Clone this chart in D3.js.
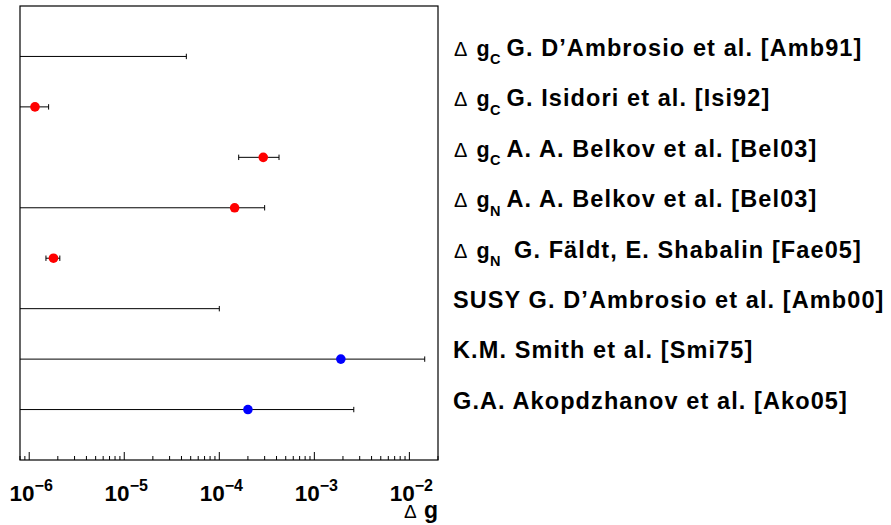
<!DOCTYPE html>
<html><head><meta charset="utf-8">
<script src="https://cdn.jsdelivr.net/npm/d3@7"></script>
<style>
html,body{margin:0;padding:0;background:#fff;}
text{font-family:"Liberation Sans",Arial,Helvetica,sans-serif;}
</style></head>
<body>
<svg id="c" width="891" height="525"></svg>
<script>
// ---- data ----
const legendSub = ["C","C","C","N","N","","",""];
const legendText = ["G. D\u2019Ambrosio et al. [Amb91]","G. Isidori et al. [Isi92]","A. A. Belkov et al. [Bel03]","A. A. Belkov et al. [Bel03]","G. F\u00e4ldt, E. Shabalin [Fae05]","SUSY G. D\u2019Ambrosio et al. [Amb00]","K.M. Smith et al. [Smi75]","G.A. Akopdzhanov et al. [Ako05]"];
const values = [null, 1.15e-6, 2.9e-4, 1.45e-4, 1.8e-6, null, 1.9e-3, 2.0e-4];
const errLow = [0, 0.7e-6, 1.6e-4, 0, 1.5e-6, 0, 0, 0];
const errHigh = [4.5e-5, 1.6e-6, 4.25e-4, 3.0e-4, 2.1e-6, 1.0e-4, 1.45e-2, 2.6e-3];
const markerColor = ["red","red","red","red","red","red","blue","blue"];
const tickExponents = ["-6","-5","-4","-3","-2"];
const xDomain = [8e-7, 0.02];

// ---- layout ----
const svg = d3.select("#c");
const L = 20, R = 438, T = 6, B = 460;
const x = d3.scaleLog().domain(xDomain).range([L, R]);
const y = d3.scaleLinear().domain([0, 9]).range([B, T]);
const rowY = i => y(8 - i);

// frame
svg.append("rect").attr("x", L).attr("y", T).attr("width", R - L).attr("height", B - T)
  .attr("fill", "none").attr("stroke", "#000").attr("stroke-width", 1.2);

// ticks
const allTicks = x.ticks();
const g = svg.append("g");
allTicks.forEach(t => {
  const lg = Math.log10(t);
  const major = Math.abs(lg - Math.round(lg)) < 1e-9;
  const px = x(t);
  g.append("line").attr("x1", px).attr("x2", px).attr("y1", B).attr("y2", B - (major ? 8 : 4))
    .attr("stroke", "#000").attr("stroke-width", 1);
});

// tick labels
tickExponents.forEach(e => {
  const v = Math.pow(10, +e);
  const t = svg.append("text").attr("x", x(v) + 2).attr("y", 501).attr("text-anchor", "middle")
    .attr("font-weight", "bold").attr("font-size", 22.5);
  t.append("tspan").text("10");
  t.append("tspan").attr("dy", -10).attr("font-size", 16).text("\u2212" + e.replace("-", ""));
});

// axis title
const at = svg.append("text").attr("x", 404).attr("y", 517.5);
at.append("tspan").attr("font-size", 19).text("\u0394");
at.append("tspan").attr("x", 424).attr("font-size", 23).attr("font-weight", "bold").text("g");

// error bars
const eb = svg.append("g");
values.forEach((v, i) => {
  const yy = rowY(i);
  const lowV = errLow[i], hiV = errHigh[i];
  const x1 = lowV > xDomain[0] ? x(lowV) : L;
  const x2 = x(hiV);
  eb.append("line").attr("x1", x1).attr("x2", x2).attr("y1", yy).attr("y2", yy)
    .attr("stroke", "#000").attr("stroke-width", 1);
  if (lowV > xDomain[0]) eb.append("line").attr("x1", x1).attr("x2", x1).attr("y1", yy - 2.7).attr("y2", yy + 2.7).attr("stroke", "#000");
  eb.append("line").attr("x1", x2).attr("x2", x2).attr("y1", yy - 2.7).attr("y2", yy + 2.7).attr("stroke", "#000");
});

// markers
svg.append("g").selectAll("circle").data(values.map((v, i) => ({v, i})).filter(d => d.v !== null))
  .join("circle").attr("cx", d => x(d.v)).attr("cy", d => rowY(d.i)).attr("r", 4.8)
  .attr("fill", d => markerColor[d.i]);

// legend
legendText.forEach((txt, i) => {
  const by = rowY(i) - 0.7;
  if (legendSub[i]) {
    const lt = svg.append("text").attr("x", 454).attr("y", by);
    lt.append("tspan").attr("font-size", 20).text("\u0394");
    lt.append("tspan").attr("x", 476.5).attr("font-size", 21.5).attr("font-weight", "bold").text("g");
    lt.append("tspan").attr("x", 490).attr("dy", 8.5).attr("font-size", 14.5).attr("font-weight", "bold").text(legendSub[i]);
    lt.append("tspan").attr("x", i === 4 ? 514 : 506.5).attr("dy", -8.5).attr("font-size", 23.5)
      .attr("letter-spacing", 1.1).attr("font-weight", "bold").text(txt);
  } else {
    svg.append("text").attr("x", 453).attr("y", by).attr("font-size", 23.5)
      .attr("letter-spacing", 1.1).attr("font-weight", "bold").text(txt);
  }
});
</script>
</body></html>
